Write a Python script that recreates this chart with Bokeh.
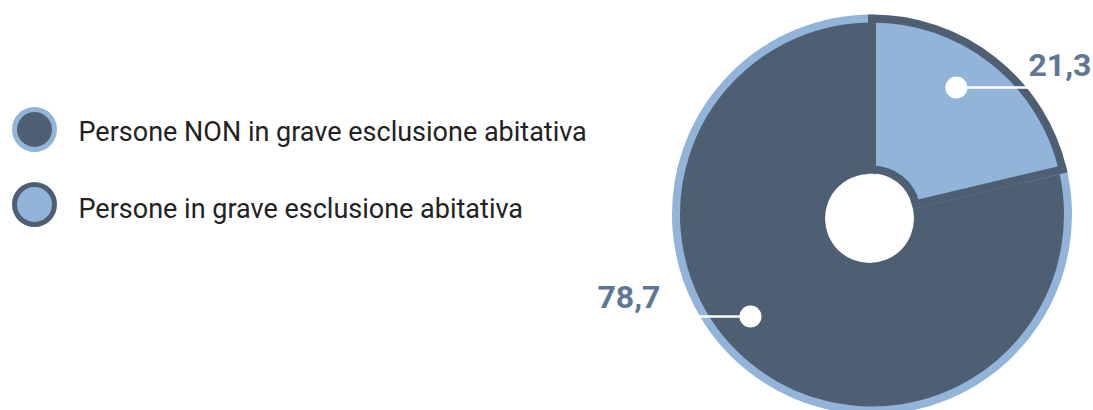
import math
from bokeh.plotting import figure
from bokeh.embed import file_html
from bokeh.resources import INLINE
from bokeh.core.properties import value

# ---- data ----
categories = ["Persone NON in grave esclusione abitativa", "Persone in grave esclusione abitativa"]
values = [78.7, 21.3]
value_labels = ["78,7", "21,3"]

# ---- style ----
DARK = "#4e5f73"
LIGHT = "#91b4d8"
LABEL = "#5e7794"
W, H = 1093, 410

p = figure(width=W, height=H, x_range=(0, W), y_range=(0, H),
           output_backend="svg", toolbar_location=None, min_border=0)
p.axis.visible = False
p.grid.visible = False
p.outline_line_color = None
p.background_fill_color = "white"
p.border_fill_color = "white"

cx, cy = 871.5, 196.0
R = 196
total = sum(values)

# slices: light slice starts at top and goes clockwise; dark the rest
frac_light = values[1] / total
top = math.pi / 2
light_start = top - 2 * math.pi * frac_light

# dark slice (drawn first, full pie)
p.wedge(x=[cx], y=[cy], radius=R, start_angle=[top], end_angle=[light_start],
        direction="anticlock", fill_color=DARK, line_color=LIGHT, line_width=8,
        line_join="miter")
# light slice
p.annular_wedge(x=[cx], y=[cy], inner_radius=45, outer_radius=R,
                start_angle=[light_start], end_angle=[top], direction="anticlock",
                fill_color=LIGHT, line_color=DARK, line_width=8, line_join="miter")
# hole
p.circle(x=[cx - 2.5], y=[cy - 4], radius=44.5, fill_color="white", line_color=None)

# leader lines with dots
def polar(r, deg):
    a = math.radians(deg)
    return cx + r * math.cos(a), cy + r * math.sin(a)

lx, ly = polar(152.5, 56.4)
dx, dy = polar(158.6, 220.0)
p.segment(x0=[lx, dx], y0=[ly, dy], x1=[1028, 697], y1=[ly, dy],
          line_color="white", line_width=2.5)
p.scatter(x=[lx, dx], y=[ly, dy], size=22, fill_color="white", line_color=None)

p.text(x=[597, 1028], y=[dy + 19, ly + 22], text=value_labels,
       text_font=value("Roboto"), text_font_style="bold", text_font_size="32px",
       text_color=LABEL, text_align="left", text_baseline="alphabetic")

# legend
leg_y = [281, 206]
p.scatter(x=[34, 34], y=leg_y, size=40, fill_color=[DARK, LIGHT],
          line_color=[LIGHT, DARK], line_width=5)
p.text(x=[78, 78], y=[279, 202], text=categories,
       text_font=value("Roboto"), text_font_size="27px", text_color="#222222",
       text_align="left", text_baseline="alphabetic")

open("out.html", "w").write(file_html(p, INLINE))
